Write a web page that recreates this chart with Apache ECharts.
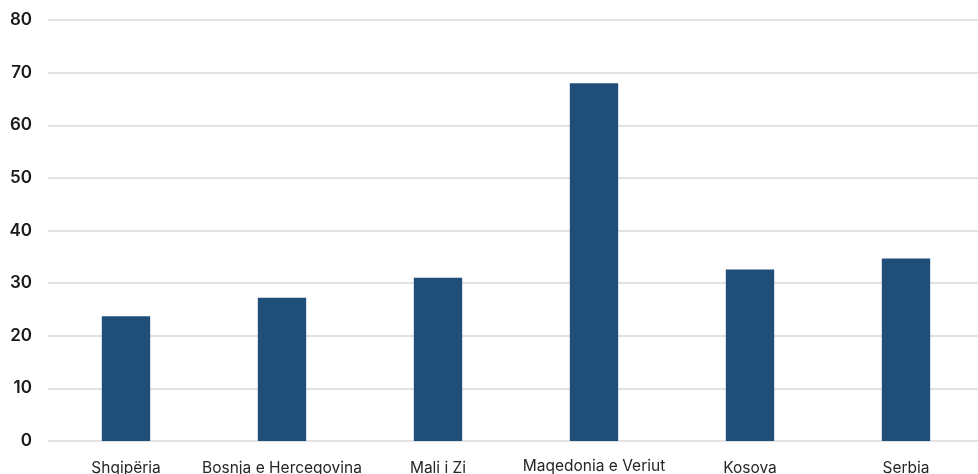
<!DOCTYPE html>
<html>
<head>
<meta charset="utf-8">
<script src="https://cdn.jsdelivr.net/npm/echarts@6/dist/echarts.min.js"></script>
<style>
  html, body { margin: 0; padding: 0; background: #ffffff; }
  #chart { width: 978px; height: 474px; }
</style>
</head>
<body>
<div id="chart"></div>
<script>
// Countries along the x axis and their values
const categories = ['Shqipëria', 'Bosnja e Hercegovina', 'Mali i Zi', 'Maqedonia e Veriut', 'Kosova', 'Serbia'];
const values = [23.7, 27.2, 31.0, 68.0, 32.6, 34.7];
const yTicks = { min: 0, max: 80, step: 10 };

const FONT = 'Inter, "DejaVu Sans", sans-serif';
const LABEL_SIZE = 15.5;

const chart = echarts.init(document.getElementById('chart'), null, { renderer: 'canvas' });

chart.setOption({
  backgroundColor: '#ffffff',
  animation: false,
  // fixed plot box: it runs a little past the right edge and the
  // category names are allowed to be cut by the bottom edge
  grid: {
    left: 48, width: 936, top: 20, bottom: 33,
    containLabel: false,
    outerBoundsMode: 'none'
  },
  xAxis: {
    type: 'category',
    data: categories.map(function (c) {
      // the longest name sits a little higher, as a wrapped label would
      return c === 'Maqedonia e Veriut'
        ? { value: c, textStyle: { lineHeight: 14 } }
        : c;
    }),
    axisLine: { show: false },
    axisTick: { show: false },
    axisLabel: {
      interval: 0,
      margin: 18,
      color: '#262626',
      fontFamily: FONT,
      fontSize: LABEL_SIZE,
      lineHeight: 19
    }
  },
  yAxis: {
    type: 'value',
    min: yTicks.min,
    max: yTicks.max,
    interval: yTicks.step,
    axisLine: { show: false },
    axisTick: { show: false },
    splitLine: { lineStyle: { color: '#d9d9d9', width: 1.5 } },
    axisLabel: {
      margin: 16,
      color: '#1a1a1a',
      fontFamily: FONT,
      fontSize: 17,
      fontWeight: 600
    }
  },
  series: [{
    type: 'bar',
    data: values,
    barWidth: '31%',
    itemStyle: { color: '#1f4e79' }
  }]
});
</script>
</body>
</html>
